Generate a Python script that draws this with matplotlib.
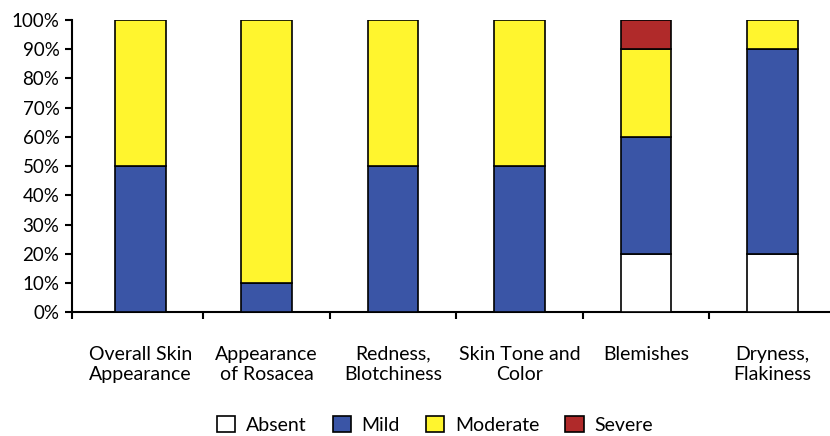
import matplotlib
matplotlib.use("Agg")
import matplotlib.pyplot as plt
import numpy as np
from matplotlib.ticker import FixedLocator, PercentFormatter

categories = ["Overall Skin\nAppearance", "Appearance\nof Rosacea", "Redness,\nBlotchiness",
              "Skin Tone and\nColor", "Blemishes", "Dryness,\nFlakiness"]
absent = [0, 0, 0, 0, 20, 20]
mild = [50, 10, 50, 50, 40, 70]
moderate = [50, 90, 50, 50, 30, 10]
severe = [0, 0, 0, 0, 10, 0]
series_names = ["Absent", "Mild", "Moderate", "Severe"]
colors = ["#FFFFFF", "#3A55A6", "#FFF52E", "#B02A2A"]

plt.rcParams['font.family'] = ['Lato', 'DejaVu Sans']
fig = plt.figure(figsize=(8.3, 4.36), dpi=100)
ax = fig.add_axes([0.0867, 0.284, 0.9217, 0.67])

x = np.arange(len(categories))
bottom = np.zeros(len(categories))
handles = []
for vals, name, c in zip([absent, mild, moderate, severe], series_names, colors):
    vals = np.array(vals, dtype=float)
    mask = vals > 0
    ax.bar(x[mask], vals[mask], width=0.4, bottom=bottom[mask], color=c,
           edgecolor="black", linewidth=1.2, zorder=3)
    h = ax.bar([0], [0], width=0.4, color=c, edgecolor="black", linewidth=1.2, label=name)
    handles.append(h)
    bottom += vals

ax.set_xlim(-0.54, 5.51)
ax.set_ylim(0, 100)
ax.set_yticks(np.arange(0, 101, 10))
ax.yaxis.set_major_formatter(PercentFormatter(decimals=0))
ax.set_xticks(x)
ax.set_xticklabels(categories, fontsize=14, linespacing=1.25)
ax.xaxis.set_minor_locator(FixedLocator([-0.54, 0.5, 1.5, 2.5, 3.5, 4.5]))
ax.tick_params(axis='x', which='major', length=0, pad=24)
ax.tick_params(axis='x', which='minor', length=5, width=1.5, direction='out')
ax.tick_params(axis='y', length=5, width=1.5, direction='out', labelsize=13.5, pad=4)
for s in ["top", "right"]:
    ax.spines[s].set_visible(False)
for s in ["left", "bottom"]:
    ax.spines[s].set_linewidth(1.5)

leg = fig.legend(handles=handles, labels=series_names, loc="lower center", ncol=4,
                 bbox_to_anchor=(0.524, -0.035), frameon=False, fontsize=14,
                 handlelength=0.93, handleheight=0.93, columnspacing=1.35, handletextpad=0.55)

fig.savefig("out.png", dpi=100)
